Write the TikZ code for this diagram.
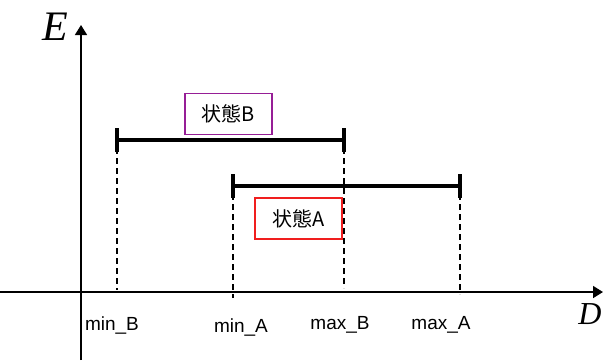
\documentclass[tikz,border=0pt]{standalone}
\usepackage{fontspec}
\setmainfont{Liberation Sans}
\newfontfamily\cjk{Noto Sans CJK JP}
\newfontfamily\serifit{Liberation Serif}
\usetikzlibrary{arrows.meta}
\tikzset{
  axis/.style={line width=1.6pt,-{Triangle[length=10pt,width=12pt]}},
  bar/.style={line width=4pt},
  tick/.style={line width=4pt},
  guide/.style={line width=1.5pt,dash pattern=on 6pt off 4pt},
  lbl/.style={font=\fontsize{19}{21}\selectfont,inner sep=0pt},
  statebox/.style={draw,line width=1.2pt,minimum width=87pt,minimum height=41pt,font=\cjk\fontsize{20}{22}\selectfont},
  axlbl/.style={font=\serifit\itshape\fontsize{42}{42}\selectfont,inner sep=0pt}
}
\begin{document}
\begin{tikzpicture}[x=1pt,y=-1pt]
\useasboundingbox (0,0) rectangle (603,360);
% axes
\coordinate (xs) at (0,292);
\coordinate (xe) at (603,292);
\coordinate (ys) at (81,360);
\coordinate (ye) at (81,25);
\draw[axis] (xs) -- (xe);
\draw[axis] (ys) -- (ye);
\node[axlbl] (E) at (55,27) {E};
\node[axlbl,font=\serifit\itshape\fontsize{32}{32}\selectfont] (D) at (590,314) {D};
% bar B
\coordinate (b1) at (117,140);
\coordinate (b2) at (344,140);
\draw[bar] (b1) -- (b2);
\draw[tick] ([yshift=-12pt]b1) -- ([yshift=12pt]b1);
\draw[tick] ([yshift=-12pt]b2) -- ([yshift=12pt]b2);
% bar A
\coordinate (a1) at (233,186);
\coordinate (a2) at (460,186);
\draw[bar] (a1) -- (a2);
\draw[tick] ([yshift=-12pt]a1) -- ([yshift=12pt]a1);
\draw[tick] ([yshift=-12pt]a2) -- ([yshift=12pt]a2);
% guides
\coordinate (g1) at (117,290);
\coordinate (g2) at (233,298);
\coordinate (g3) at (344,288);
\coordinate (g4) at (460,294);
\draw[guide] ([yshift=12pt]b1) -- (g1);
\draw[guide] ([yshift=12pt]a1) -- (g2);
\draw[guide] ([yshift=12pt]b2) -- (g3);
\draw[guide] ([yshift=12pt]a2) -- (g4);
% state boxes
\node[statebox,draw={rgb,255:red,150;green,30;blue,150}] (sB) at (228.5,114) {状態B};
\node[statebox,draw={rgb,255:red,240;green,30;blue,30}] (sA) at (298.5,218.5) {状態A};
% labels
\node[lbl] (l1) at (112,325) {min\_B};
\node[lbl] (l2) at (241,327) {min\_A};
\node[lbl] (l3) at (340,325) {max\_B};
\node[lbl] (l4) at (441,325) {max\_A};
\end{tikzpicture}
\end{document}
